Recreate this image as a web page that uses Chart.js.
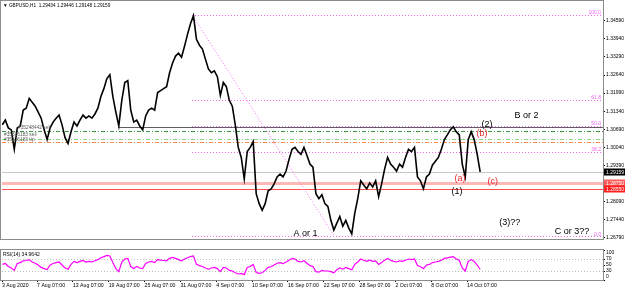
<!DOCTYPE html>
<html lang="en">
<head>
  <meta charset="UTF-8" />
  <title>GBPUSD,H1</title>
  <script src="https://cdn.jsdelivr.net/npm/chart.js"></script>
  <style>
    * { box-sizing: border-box; }
    body {
      margin: 0;
      width: 625px;
      height: 289px;
      overflow: hidden;
      position: relative;
      background: #ffffff;
      font-family: Arial, 'Liberation Sans', sans-serif;
    }
    .panel { position: absolute; left: 0; width: 625px; }
    #pricePanel { top: 0; height: 243px; }
    #rsiPanel { top: 243px; height: 46px; }
  </style>
</head>
<body>
  <div class="panel" id="pricePanel"><canvas id="priceChart"></canvas></div>
  <div class="panel" id="rsiPanel"><canvas id="rsiChart"></canvas></div>

  <script>
    // ---- data (x in H1 bars counted from 3 Aug 2020 00:00) ----
    const firstBar = 10;
    const barStep = 8;
    const xMin = 9.1, xMax = 1619;

    const closes = [
      1.3085, 1.3102, 1.3074, 1.3067, 1.2997, 1.3074, 1.3081, 1.3138, 1.3145, 1.3180,
      1.3166, 1.3152, 1.3131, 1.3109, 1.3067, 1.3032, 1.3074, 1.3095, 1.3109, 1.3120,
      1.3085, 1.3039, 1.3018, 1.3060, 1.3095, 1.3081, 1.3102, 1.3120, 1.3109, 1.3117,
      1.3109, 1.3124, 1.3145, 1.3187, 1.3215, 1.3251, 1.3265, 1.3187, 1.3131, 1.3081,
      1.3173, 1.3237, 1.3244, 1.3138, 1.3095, 1.3102, 1.3081, 1.3067, 1.3117, 1.3138,
      1.3145, 1.3138, 1.3201, 1.3208, 1.3215, 1.3222, 1.3272, 1.3307, 1.3332, 1.3342,
      1.3328, 1.3367, 1.3410, 1.3448, 1.3477, 1.3392, 1.3371, 1.3357, 1.3321, 1.3286,
      1.3272, 1.3279, 1.3258, 1.3191, 1.3237, 1.3222, 1.3173, 1.3152, 1.3085, 1.3004,
      1.2968, 1.2891, 1.2989, 1.3004, 1.3025, 1.2838, 1.2802, 1.2778, 1.2802, 1.2848,
      1.2855, 1.2873, 1.2898, 1.2908, 1.2898, 1.2919, 1.2961, 1.2997, 1.3004, 1.2989,
      1.2979, 1.3004, 1.2975, 1.2944, 1.2933, 1.2838, 1.2820, 1.2834, 1.2802, 1.2792,
      1.2742, 1.2707, 1.2732, 1.2756, 1.2721, 1.2742, 1.2714, 1.2693, 1.2767, 1.2820,
      1.2884, 1.2869, 1.2855, 1.2876, 1.2862, 1.2884, 1.2827, 1.2873, 1.2926, 1.2968,
      1.2944, 1.2933, 1.2919, 1.2944, 1.2933, 1.2968, 1.2997, 1.2989, 1.3004, 1.2898,
      1.2884, 1.2855, 1.2898, 1.2908, 1.2940, 1.2954, 1.2968, 1.2997, 1.3032, 1.3049,
      1.3067, 1.3078, 1.3060, 1.3049, 1.2944, 1.2898, 1.3032, 1.3060, 1.3032, 1.2979,
      1.29159
    ];

    const rsi = [
      52, 55, 45, 40, 32, 55, 58, 64, 65, 68,
      60, 56, 50, 42, 38, 35, 50, 55, 58, 60,
      50, 40, 36, 52, 62, 58, 62, 65, 60, 62,
      60, 64, 68, 74, 78, 82, 80, 58, 38, 28,
      60, 70, 72, 45, 38, 45, 40, 38, 55, 60,
      62, 58, 68, 66, 65, 64, 72, 75, 72, 68,
      64, 70, 74, 78, 80, 52, 48, 45, 40, 36,
      40, 42, 38, 28, 42, 40, 32, 30, 24, 20,
      22, 18, 42, 45, 52, 25, 22, 24, 32, 42,
      44, 50, 56, 58, 55, 60, 66, 72, 70, 62,
      60, 64, 56, 48, 45, 28, 26, 32, 30, 30,
      28, 24, 34, 40, 36, 42, 38, 34, 52, 60,
      70, 66, 62, 66, 62, 64, 52, 58, 66, 72,
      66, 62, 60, 64, 62, 66, 70, 68, 70, 48,
      44, 38, 50, 52, 58, 60, 62, 66, 72, 74,
      76, 78, 70, 66, 40, 30, 62, 68, 62, 50,
      34.96
    ];

    const tickBars = [9.1, 103, 199, 295, 391, 487, 583, 679, 775, 871, 967, 1063, 1159, 1255];
    const tickLabels = ['3 Aug 2020', '7 Aug 07:00', '13 Aug 07:00', '19 Aug 07:00', '25 Aug 07:00',
      '31 Aug 07:00', '4 Sep 07:00', '10 Sep 07:00', '16 Sep 07:00', '22 Sep 07:00',
      '28 Sep 07:00', '2 Oct 07:00', '8 Oct 07:00', '14 Oct 07:00'];

    const priceTicks = [1.26790, 1.27440, 1.28090, 1.28740, 1.29390, 1.30040, 1.30690,
      1.31340, 1.31990, 1.32640, 1.33290, 1.33940, 1.34590];
    const rsiTicks = [0, 30, 50, 70, 100];

    // fibonacci retracement
    const fibHigh = 1.3480, fibLow = 1.2684;
    const fibHighBar = 518, fibLowBar = 900;
    const fibLevels = [0, 38.2, 50, 61.8, 100];

    // horizontal lines: order line, sell entries, t/p, bid, alert zone
    const linePrices = [1.3078, 1.3064, 1.3035, 1.3023, 1.29159, 1.2875, 1.2855];
    const lineFromBars = [320, xMin, xMin, xMin, xMin, xMin, xMin];

    // wave labels
    const waveTexts = ['B or 2', '(2)', '(b)', '(a)', '(c)', '(1)', '(3)??', 'C or 3??', 'A or 1'];
    const waveBars = [1414, 1308, 1295, 1236, 1324, 1228, 1369, 1536, 822];
    const wavePrices = [1.3120, 1.3085, 1.3053, 1.2891, 1.2880, 1.2845, 1.2735, 1.2703, 1.2693];

    const bars = closes.map((_, i) => firstBar + i * barStep);

    // ---- styles ----
    const lineStyles = [
      { color: '#5f5f5f', width: 1, dash: [] },
      { color: '#3c963c', width: 1, dash: [4, 2, 1, 2] },
      { color: '#8ccf8c', width: 1, dash: [4, 2, 1, 2] },
      { color: '#ff8a4a', width: 1, dash: [4, 2, 1, 2] },
      { color: '#c8c8c8', width: 1, dash: [] },
      { color: '#ffb8b8', width: 3, dash: [] },
      { color: '#ff5050', width: 1, dash: [] }
    ];
    const waveColors = ['#000', '#000', '#e8262a', '#e8262a', '#e8262a', '#000', '#000', '#000', '#000'];
    const fibColor = '#f064f0';
    const smallFont = '5px Arial, "Liberation Sans", sans-serif';

    const px = (chart, v) => chart.scales.x.getPixelForValue(v);
    const py = (chart, v) => chart.scales.y.getPixelForValue(v);

    const priceOverlay = {
      id: 'priceOverlay',
      beforeDatasetsDraw(chart) {
        const { ctx, chartArea: a } = chart;
        ctx.save();
        ctx.beginPath();
        ctx.rect(a.left, a.top, a.right - a.left, a.bottom - a.top);
        ctx.clip();

        linePrices.forEach((p, i) => {
          const s = lineStyles[i];
          const y = Math.round(py(chart, p)) + (s.width % 2 ? 0.5 : 0);
          ctx.strokeStyle = s.color;
          ctx.lineWidth = s.width;
          ctx.setLineDash(s.dash);
          ctx.beginPath();
          ctx.moveTo(Math.max(a.left, px(chart, lineFromBars[i])), y);
          ctx.lineTo(a.right, y);
          ctx.stroke();
        });

        // fib levels
        ctx.strokeStyle = fibColor;
        ctx.lineWidth = 1;
        ctx.setLineDash([1, 2]);
        const x0 = px(chart, fibHighBar);
        fibLevels.forEach(l => {
          const y = Math.round(py(chart, fibLow + (fibHigh - fibLow) * l / 100)) + 0.5;
          ctx.beginPath();
          ctx.moveTo(x0, y);
          ctx.lineTo(a.right, y);
          ctx.stroke();
        });
        ctx.beginPath();
        ctx.moveTo(x0, py(chart, fibHigh));
        ctx.lineTo(px(chart, fibLowBar), py(chart, fibLow));
        ctx.stroke();
        ctx.restore();
      },
      afterDraw(chart) {
        const { ctx, chartArea: a } = chart;
        ctx.save();
        ctx.font = smallFont;
        ctx.textBaseline = 'bottom';
        ctx.textAlign = 'right';
        ctx.fillStyle = fibColor;
        fibLevels.forEach(l => {
          const y = py(chart, fibLow + (fibHigh - fibLow) * l / 100);
          ctx.fillText(l.toFixed(1), a.right - 2, y + 0.5);
        });

        // wave labels
        ctx.font = '9px Arial, "Liberation Sans", sans-serif';
        ctx.textAlign = 'center';
        ctx.textBaseline = 'middle';
        waveTexts.forEach((t, i) => {
          ctx.fillStyle = waveColors[i];
          ctx.fillText(t, px(chart, waveBars[i]), py(chart, wavePrices[i]));
        });

        // order labels on the left
        ctx.font = '4.8px Arial, "Liberation Sans", sans-serif';
        ctx.textAlign = 'left';
        ctx.fillStyle = '#5a5a5a';
        ctx.fillText('#35248442 sell', 18, py(chart, 1.3078) + 1);
        ctx.fillText('#35316183 sell', 4, py(chart, 1.3050));
        ctx.fillText('#35316183 t/p', 4, py(chart, 1.3030));

        // title
        ctx.font = '4.7px Arial, "Liberation Sans", sans-serif';
        ctx.fillStyle = '#000';
        ctx.fillText('\u25BC GBPUSD,H1  1.29434 1.29446 1.29148 1.29159', 3, 6);

        // frame
        ctx.strokeStyle = '#8c8c8c';
        ctx.lineWidth = 1;
        ctx.strokeRect(0.5, 0.5, a.right, a.bottom);

        // price boxes on the axis
        ctx.font = smallFont;
        const boxes = [[1.29159, '#000000'], [1.2875, '#ff5a5a'], [1.2855, '#ff1e1e']];
        boxes.forEach(([p, c]) => {
          const y = py(chart, p);
          ctx.fillStyle = c;
          ctx.fillRect(a.right + 1, Math.round(y) - 3.5, 22, 7);
          ctx.fillStyle = '#fff';
          ctx.fillText(p.toFixed(5), a.right + 3, y + 0.5);
        });
        ctx.restore();
      }
    };

    const rsiOverlay = {
      id: 'rsiOverlay',
      beforeDatasetsDraw(chart) {
        const { ctx, chartArea: a } = chart;
        ctx.save();
        ctx.strokeStyle = '#bdbdbd';
        ctx.lineWidth = 1;
        ctx.setLineDash([1, 2]);
        [70, 30].forEach(l => {
          const y = Math.round(py(chart, l)) + 0.5;
          ctx.beginPath();
          ctx.moveTo(a.left, y);
          ctx.lineTo(a.right, y);
          ctx.stroke();
        });
        ctx.restore();
      },
      afterDraw(chart) {
        const { ctx, chartArea: a } = chart;
        ctx.save();
        ctx.strokeStyle = '#8c8c8c';
        ctx.lineWidth = 1;
        ctx.strokeRect(0.5, a.top - 0.5, a.right, a.bottom - a.top + 1);
        ctx.font = smallFont;
        ctx.fillStyle = '#000';
        ctx.textBaseline = 'middle';
        ctx.fillText('RSI(14) 34.9642', 3, a.top + 5);
        ctx.restore();
      }
    };

    Chart.defaults.font.family = 'Arial, "Liberation Sans", sans-serif';
    Chart.defaults.color = '#000';

    new Chart(document.getElementById('priceChart'), {
      type: 'line',
      data: {
        datasets: [{
          data: closes.map((c, i) => ({ x: bars[i], y: c })),
          borderColor: '#000',
          borderWidth: 1.6,
          pointRadius: 0,
          tension: 0
        }]
      },
      options: {
        animation: false,
        responsive: true,
        maintainAspectRatio: false,
        devicePixelRatio: 1,
        events: [],
        layout: { padding: { left: 2, top: 2, right: 0, bottom: 2 } },
        plugins: { legend: { display: false }, tooltip: { enabled: false } },
        scales: {
          x: { type: 'linear', min: xMin, max: xMax, display: false },
          y: {
            position: 'right',
            min: 1.2675,
            max: 1.3519,
            afterBuildTicks: s => { s.ticks = priceTicks.map(v => ({ value: v })); },
            afterFit: s => { s.width = 22; },
            grid: { display: true, drawOnChartArea: false, tickLength: 2, color: '#000' },
            border: { display: true, color: '#000' },
            ticks: {
              font: { size: 5 },
              padding: 1,
              autoSkip: false,
              callback: v => v.toFixed(5)
            }
          }
        }
      },
      plugins: [priceOverlay]
    });

    new Chart(document.getElementById('rsiChart'), {
      type: 'line',
      data: {
        datasets: [{
          data: rsi.map((r, i) => ({ x: bars[i], y: r })),
          borderColor: '#ff00ff',
          borderWidth: 1.2,
          pointRadius: 0,
          tension: 0
        }]
      },
      options: {
        animation: false,
        responsive: true,
        maintainAspectRatio: false,
        devicePixelRatio: 1,
        events: [],
        layout: { padding: { left: 2, top: 4, right: 0, bottom: 0 } },
        plugins: { legend: { display: false }, tooltip: { enabled: false } },
        scales: {
          x: {
            type: 'linear',
            min: xMin,
            max: xMax,
            afterBuildTicks: s => { s.ticks = tickBars.map(v => ({ value: v })); },
            afterFit: s => { s.height = 9; },
            grid: { display: true, drawOnChartArea: false, tickLength: 2, color: '#000' },
            border: { display: true, color: '#000' },
            ticks: {
              font: { size: 5.2 },
              padding: 0,
              align: 'start',
              autoSkip: false,
              maxRotation: 0,
              callback: (v, i) => tickLabels[i]
            }
          },
          y: {
            position: 'right',
            min: 0,
            max: 100,
            afterBuildTicks: s => { s.ticks = rsiTicks.map(v => ({ value: v })); },
            afterFit: s => { s.width = 22; },
            grid: { display: true, drawOnChartArea: false, tickLength: 2, color: '#000' },
            border: { display: true, color: '#000' },
            ticks: {
              font: { size: 5 },
              padding: 1,
              autoSkip: false,
              callback: v => v === 100 ? ['', '100'] : v === 0 ? ['0', ''] : String(v)
            }
          }
        }
      },
      plugins: [rsiOverlay]
    });
  </script>
</body>
</html>
